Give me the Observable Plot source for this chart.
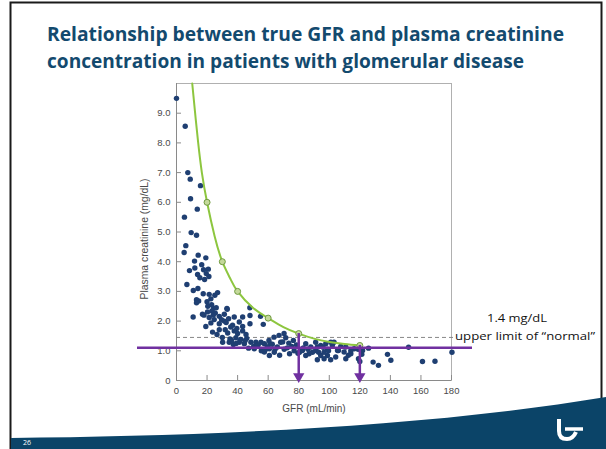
<!DOCTYPE html>
<html><head><meta charset="utf-8">
<script src="https://cdn.jsdelivr.net/npm/d3@7"></script>
<script src="https://cdn.jsdelivr.net/npm/@observablehq/plot@0.6"></script>
<style>
html,body{margin:0;padding:0;background:#fff;}
#wrap{position:relative;width:606px;height:449px;overflow:hidden;background:#fff;}
#chart{position:absolute;left:0;top:0;}
#deco{position:absolute;left:0;top:0;pointer-events:none;}
</style></head><body>
<div id="wrap"><div id="chart"></div><svg id="deco" width="606" height="449"></svg></div>
<script>
// ---- text ----
const titleLines = ["Relationship between true GFR and plasma creatinine", "concentration in patients with glomerular disease"];
const xLabel = "GFR (mL/min)";
const yLabel = "Plasma creatinine (mg/dL)";
const noteLines = ["1.4 mg/dL", "upper limit of \u201cnormal\u201d"];
const pageNumber = "26";

// ---- ticks ----
const xTicks = [0, 20, 40, 60, 80, 100, 120, 140, 160, 180];
const yTicks = [0, 1, 2, 3, 4, 5, 6, 7, 8, 9];
const yTickLabels = ["0", "1.0", "2.0", "3.0", "4.0", "5.0", "6.0", "7.0", "8.0", "9.0"];

// ---- patient points ----
const gfr = [0,5.7,7.4,9.0,15.7,9.2,13.6,5.2,9.6,13.1,6.1,5.0,14.2,19.2,11.8,12.0,17.7,20.8,13.8,15.3,18.4,21.2,6.8,11.0,17.5,21.4,25.1,26.9,13.1,14.5,13.1,22.5,20.0,24.3,33.0,48.0,33.2,10.9,17.0,20.3,23.2,25.4,28.0,31.3,21.4,24.7,22.5,19.2,28.0,31.3,34.1,37.8,43.3,48.1,41.1,36.7,43.3,48.1,56.8,55.0,23.6,28.0,31.9,37.8,40.0,43.3,38.9,30.2,34.5,37.2,41.1,44.4,48.7,52.0,55.3,57.5,61.2,47.2,50.9,60.8,57.5,60.8,60.5,63.8,67.1,70.4,71.5,68.2,73.5,62.7,66.0,75.4,59.4,84.6,87.9,91.1,94.4,97.7,101.0,103.1,102.0,91.1,92.2,94.4,96.6,98.8,100.9,104.2,106.0,109.7,110.8,114.1,116.3,119.1,121.8,82.4,84.6,86.8,92.2,96.6,98.8,105.4,110.8,114.1,118.9,121.3,120.0,125.7,128.7,132.2,138.1,140.3,151.9,161.0,169.2,180.3,
  16.5,19.5,23.0,26.0,18.0,29.5,32.5,35.5,39.5,45.5,26.5,30.0,33.5,36.0,42.0,46.0,50.5,53.5,58.5,64.5,69.5,72.5,76.5,78.5,80.5,83.0,86.0,89.0,93.0,96.0,99.5,107.5,112.5,64.0,67.5,70.5,74.0,77.0,79.5,52.5,55.5,45.0,39.0,35.0,24.0,20.5,8.5,14.0];
const creat = [9.5,8.56,7.0,6.78,6.56,6.12,5.77,5.5,4.98,4.89,4.54,4.31,4.22,4.13,4.02,3.79,3.73,3.75,3.57,3.46,3.40,3.50,3.23,3.03,2.92,2.90,2.87,2.96,2.72,2.68,2.62,2.75,2.65,2.43,2.43,2.45,2.40,2.14,2.23,2.31,2.34,2.27,2.16,2.23,2.12,2.05,1.94,1.82,1.91,2.0,2.08,2.14,2.14,2.19,1.97,1.86,1.82,1.91,1.89,2.16,1.63,1.71,1.71,1.67,1.58,1.67,1.44,1.29,1.29,1.21,1.29,1.24,1.29,1.29,1.29,1.24,1.24,1.09,1.07,1.07,0.96,0.84,1.35,1.46,1.52,1.58,1.44,1.29,1.26,1.22,1.13,1.15,1.13,1.24,1.13,1.29,1.18,1.24,1.29,1.29,1.18,1.01,0.70,0.84,0.73,0.84,0.70,0.79,1.01,0.96,0.73,0.90,1.07,0.73,1.01,1.01,0.84,0.90,1.13,0.95,1.05,1.01,1.13,1.0,1.05,0.88,0.64,1.09,0.62,0.51,0.88,0.68,1.12,0.64,0.65,0.95,
  3.9,3.6,2.55,2.45,2.2,2.05,1.95,1.8,1.75,1.55,1.55,1.45,1.6,1.35,1.38,1.42,1.15,1.2,1.05,1.05,1.3,1.1,1.35,1.2,0.95,1.1,1.05,0.95,0.95,1.12,1.0,1.15,0.85,0.95,0.85,1.05,0.9,1.0,0.92,1.15,1.0,1.35,1.25,1.4,2.2,2.5,3.7,3.1];

// ---- green reference curve ----
const curveGfr = [10.3, 12.2, 14.2, 16.6, 20, 25, 30, 35, 40, 50, 60, 70, 80, 90, 100, 110, 120];
const curveCreat = [10.0, 9.0, 8.0, 7.0, 6.0, 4.85, 4.0, 3.45, 3.0, 2.45, 2.1, 1.8, 1.58, 1.41, 1.3, 1.23, 1.18];
const markGfr = [20, 30, 40, 60, 80, 120];
const markCreat = [6.0, 4.0, 3.0, 2.1, 1.58, 1.18];

// ---- annotations ----
const normalLimit = [1.45];
const purpleLevel = [1.1];
const arrowGfr = [80, 120];
const arrowTop = [1.58, 1.18];

const points = gfr.map((g, i) => ({g, c: creat[i]}));
const curve = curveGfr.map((g, i) => ({g, c: curveCreat[i]}));
const marks = markGfr.map((g, i) => ({g, c: markCreat[i]}));
const arrows = arrowGfr.map((g, i) => ({g, top: arrowTop[i]}));

const purple = "#7030a0";
const font = "'Liberation Sans', Arial, sans-serif";

const chart = Plot.plot({
  width: 606, height: 449,
  marginLeft: 176, marginRight: 155, marginTop: 83, marginBottom: 69,
  x: {domain: [0, 180]},
  y: {domain: [0, 10]},
  style: {background: "transparent", fontFamily: font, fontSize: "9.5px", color: "#4a4a4a"},
  marks: [
    Plot.frame({stroke: "#b0b0b0"}),
    Plot.ruleX([0], {stroke: "#8a8a8a"}),
    Plot.ruleY([0], {stroke: "#8a8a8a"}),
    Plot.axisY(yTicks, {tickSize: -5, tickPadding: 11, tickFormat: (d) => yTickLabels[yTicks.indexOf(d)], label: null, stroke: "#8a8a8a"}),
    Plot.axisX(xTicks, {tickSize: -5, tickPadding: 12, label: null, stroke: "#8a8a8a"}),
    Plot.text([xLabel], {text: d => d, frameAnchor: "bottom", dy: 31, fill: "#4a4a4a", fontSize: 10}),
    Plot.ruleY(normalLimit, {stroke: "#888", strokeDasharray: "4,3", strokeWidth: 1, insetRight: -3}),
    Plot.dot(points, {x: "g", y: "c", r: 2.7, fill: "#1f3f72"}),
    Plot.line(curve, {x: "g", y: "c", stroke: "#8dc63f", strokeWidth: 2, curve: "natural"}),
    Plot.dot(marks, {x: "g", y: "c", r: 3, fill: "#c4d99a", stroke: "#6f9a3e", strokeWidth: 1}),
    Plot.ruleY(purpleLevel, {stroke: purple, strokeWidth: 2.5, insetLeft: -39, insetRight: -21}),
    Plot.ruleX(arrows, {x: "g", y1: "top", y2: 0, stroke: purple, strokeWidth: 2.5, insetBottom: 6}),
    Plot.dot(arrows, {x: "g", y: 0, symbol: "triangle", rotate: 180, r: 4.2, fill: purple, stroke: null, dy: -4})
  ]
});
document.getElementById("chart").appendChild(chart);

// ---- slide decoration ----
const deco = d3.select("#deco");
deco.append("rect").attr("x", 10.5).attr("y", 2.5).attr("width", 591).attr("height", 447)
  .attr("fill", "none").attr("stroke", "#1a1a1a").attr("stroke-width", 2);
deco.append("path").attr("d", "M11,449 L11,438 C200,436 420,428 606,397 L606,449 Z").attr("fill", "#0b4468");
deco.append("text").attr("x", 23).attr("y", 445).attr("fill", "#fff").attr("font-size", 7)
  .attr("font-family", "'Open Sans', sans-serif").text(pageNumber);
deco.append("path").attr("d", "M559,419 L559,431 Q559,439 567,439 Q573,439 576,432").attr("fill", "none")
  .attr("stroke", "#fff").attr("stroke-width", 4);
deco.append("path").attr("d", "M565,429 L583,429").attr("stroke", "#fff").attr("stroke-width", 3.5);
deco.append("text").attr("transform", "translate(148,239) rotate(-90)").attr("text-anchor", "middle")
  .attr("fill", "#4a4a4a").attr("font-family", font).attr("font-size", 10)
  .attr("textLength", 121).attr("lengthAdjust", "spacingAndGlyphs").text(yLabel);
titleLines.forEach((t, i) => {
  deco.append("text").attr("x", 47).attr("y", 41 + i * 26.5).attr("fill", "#134a6e")
    .attr("font-family", "'Open Sans', sans-serif").attr("font-weight", 700).attr("font-size", 19)
    .attr("textLength", i === 0 ? 517 : 477).attr("lengthAdjust", "spacingAndGlyphs").text(t);
});
noteLines.forEach((t, i) => {
  deco.append("text").attr("x", i === 0 ? 517 : 525).attr("y", 322 + i * 18).attr("text-anchor", "middle")
    .attr("fill", "#111").attr("font-family", "'Open Sans', sans-serif").attr("font-size", 11.5)
    .attr("textLength", i === 0 ? 60 : 140).attr("lengthAdjust", "spacingAndGlyphs").text(t);
});
</script></body></html>
